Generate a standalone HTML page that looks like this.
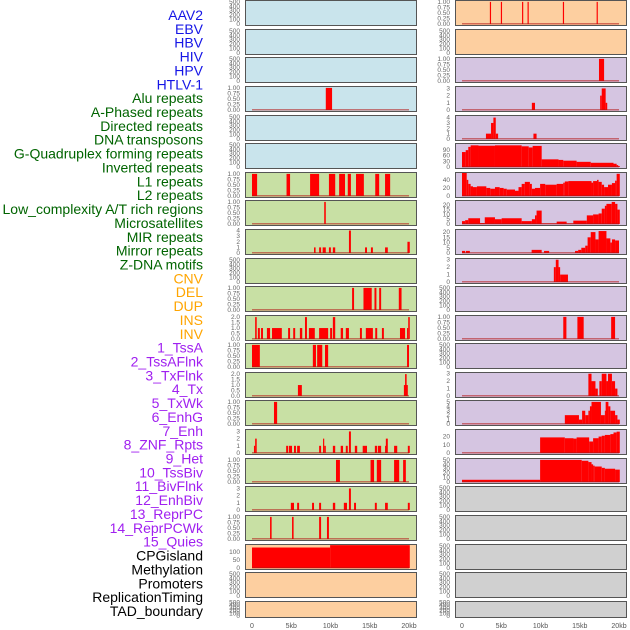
<!DOCTYPE html>
<html><head><meta charset="utf-8"><style>
html,body{margin:0;padding:0;background:#fff;width:630px;height:630px;overflow:hidden}
svg{display:block}
</style></head><body>
<svg id="chart" width="630" height="630" xmlns="http://www.w3.org/2000/svg"></svg>
<script>
// ---- data ----
const trackLabels = ["AAV2","EBV","HBV","HIV","HPV","HTLV-1","Alu repeats","A-Phased repeats","Directed repeats","DNA transposons","G-Quadruplex forming repeats","Inverted repeats","L1 repeats","L2 repeats","Low_complexity A/T rich regions","Microsatellites","MIR repeats","Mirror repeats","Z-DNA motifs","CNV","DEL","DUP","INS","INV","1_TssA","2_TssAFlnk","3_TxFlnk","4_Tx","5_TxWk","6_EnhG","7_Enh","8_ZNF_Rpts","9_Het","10_TssBiv","11_BivFlnk","12_EnhBiv","13_ReprPC","14_ReprPCWk","15_Quies","CPGisland","Methylation","Promoters","ReplicationTiming","TAD_boundary"];
const labelColors = ["#1515e6","#1515e6","#1515e6","#1515e6","#1515e6","#1515e6","#006400","#006400","#006400","#006400","#006400","#006400","#006400","#006400","#006400","#006400","#006400","#006400","#006400","#ffa500","#ffa500","#ffa500","#ffa500","#ffa500","#a020f0","#a020f0","#a020f0","#a020f0","#a020f0","#a020f0","#a020f0","#a020f0","#a020f0","#a020f0","#a020f0","#a020f0","#a020f0","#a020f0","#a020f0","#000","#000","#000","#000","#000"];
const xTickValues = [0,5,10,15,20];
const xTickLabels = ["0","5kb","10kb","15kb","20kb"];
const T500 = [0,100,200,300,400,500];
const T1 = [0,0.25,0.5,0.75,1];
const T2 = [0,0.5,1,1.5,2];
// left column panels
const leftBg = ["b","b","b","b","b","b","g","g","g","g","g","g","g","g","g","g","g","g","g","o","o","o"];
const leftTicks = [T500,T500,T500,T1,T500,T500,T1,T1,[0,1,2,3,4],T500,T1,T2,T1,T2,T1,[0,1,2,3],T1,[0,1,2,3],T1,[0,50,100],T500,T500];
const leftMax = [520,520,520,1.04,520,520,1.04,1.04,4.1,520,1.04,2.1,1.04,2.1,1.04,3.2,1.04,3.2,1.04,146,520,520];
const leftSegs = [
 [],[],[],
 [[9.4,10.2,1]],
 [],[],
 [[0,0.65,1],[4.4,4.85,1],[7.4,8.55,1],[9.8,10.6,1],[11.1,11.85,1],[12.2,12.6,1],[13.25,14.25,1],[15.7,16.2,1],[16.95,17.6,1]],
 [[9.2,9.4,1]],
 [[7.9,8.1,1],[8.55,8.8,1],[9.0,9.4,1],[9.8,10.05,1],[10.3,10.6,1],[12.35,12.6,4],[14.4,14.65,1],[15.15,15.4,1],[16.95,17.3,1],[19.8,20.1,2]],
 [],
 [[12.75,13.0,1],[14.2,15.25,1],[15.6,15.85,1],[16.2,16.45,1],[18.7,19.05,1]],
 [[0.4,0.6,2],[0.75,1.0,1],[1.15,1.4,1],[1.9,2.3,1],[2.55,3.8,1],[4.6,4.85,1],[5.25,5.5,1],[6.1,6.4,1],[6.75,7.0,2],[7.25,8.0,1],[8.55,9.7,1],[9.95,10.2,1],[10.3,10.6,2],[11.3,11.6,1],[11.95,12.35,1],[13.75,14.0,1],[14.5,15.4,1],[15.7,15.95,1],[16.55,16.8,1],[18.85,19.5,1],[19.75,19.9,1],[19.9,20.1,2]],
 [[0,1.0,1],[7.75,8.15,1],[8.3,8.95,1],[9.3,9.7,1],[19.75,20.0,1]],
 [[5.85,6.35,1],[19.35,19.85,1],[19.5,19.7,2]],
 [[2.8,3.2,1]],
 [[0.25,0.4,1],[0.4,0.6,2],[4.35,4.6,1],[4.7,5.1,1],[5.35,5.6,1],[5.75,6.1,1],[8.55,8.8,1],[9.05,9.2,2],[9.2,9.4,1],[10.3,10.6,1],[11.3,11.6,1],[11.95,12.2,1],[12.35,12.6,3],[13.1,13.4,1],[14.1,14.65,1],[15.65,15.95,1],[16.05,16.45,1],[16.95,17.2,1],[17.05,17.3,2],[18.1,18.5,1],[19.85,20.1,1]],
 [[10.7,11.2,1],[15.1,15.55,1],[15.9,16.45,1],[18.1,18.75,1],[19.25,19.6,1]],
 [[4.95,5.35,1],[5.75,6.0,1],[7.65,7.9,1],[8.55,8.8,1],[10.3,10.6,1],[11.7,12.1,1],[12.35,12.6,3],[13.0,13.25,1],[15.65,15.9,1],[16.95,17.3,1],[19.85,20.1,1]],
 [[2.3,2.5,1],[5.1,5.3,1],[8.55,8.8,1],[9.55,9.8,1]],
 [[0,9.95,130],[9.95,20.1,145]],
 [],[]
];
// right column panels
const rightBg = ["o","o","p","p","p","p","p","p","p","p","p","p","p","p","p","p","p","y","y","y","y","y"];
const rightTicks = [T1,T500,T1,[0,1,2,3],[0,1,2,3,4],[0,30,60,90],[0,20,40],[0,5,10,15,20],[0,5,10,15,20],[0,1,2,3],T500,T1,T500,[0,1,2,3],[0,1,2,3,4,5],[0,10,20],[0,10,20,30,40,50],T500,T500,T500,T500,T500];
const rightMax = [1.04,520,1.04,3.2,4.3,120,57,24,22,3.1,520,1.04,520,3.1,5.2,28,52,520,520,520,520,520];
const rightSegs = [
 [[3.55,3.7,1],[4.95,5.1,1],[7.65,7.8,1],[8.35,8.5,1],[12.85,13.0,1],[17.15,17.3,1]],
 [],
 [[17.45,18.1,1]],
 [[8.9,9.3,1],[17.6,17.8,2],[17.8,18.3,3],[18.3,18.5,1]],
 [[3.05,3.7,1],[3.7,4.0,3],[4.0,4.3,4],[4.3,4.6,1],[9.1,9.5,1]],
 [[0,0.47,78],[0.47,0.8,88],[0.8,1.1,105],[1.1,2.1,113],[2.1,4.2,111],[4.2,7.6,113],[7.6,8.5,108],[8.5,9.0,102],[9.0,10.15,110],[10.15,12.3,40],[12.3,12.9,37],[12.9,14.6,33],[14.6,16.4,27],[16.4,19.3,22],[19.3,19.7,17],[19.7,19.9,10],[19.9,20.1,5]],
 [[0,0.6,57],[0.6,0.8,40],[0.8,1.1,30],[1.1,1.4,24],[1.4,1.9,22],[1.9,3.1,24],[3.1,3.6,20],[3.6,4.2,18],[4.2,4.8,22],[4.8,5.3,20],[5.3,5.7,18],[5.7,6.75,16],[6.75,7.2,13],[7.2,7.6,22],[7.6,8.0,30],[8.0,8.65,35],[8.65,8.9,30],[8.9,9.3,18],[9.3,9.95,20],[9.95,10.6,30],[10.6,12.06,28],[12.06,12.9,30],[12.9,13.1,33],[13.1,13.55,36],[13.55,16.5,37],[16.5,16.7,33],[16.7,17.2,37],[17.2,17.4,40],[17.4,17.8,35],[17.8,18.1,28],[18.1,18.6,22],[18.6,19.1,28],[19.1,19.5,32],[19.5,19.7,38],[19.7,20.1,55]],
 [[0,0.4,3],[0.4,0.8,4],[0.8,2.3,6],[2.3,2.9,1],[2.9,4.2,7],[4.2,5.05,5],[5.05,7.6,6],[7.6,8.9,3],[8.9,9.3,5],[9.3,9.5,9],[9.5,10.15,14],[10.15,12.06,0.5],[12.06,13.33,2.5],[13.33,14.18,0.5],[14.18,15.9,3.5],[15.9,16.7,9],[16.7,17.4,10],[17.4,17.8,11],[17.8,18.2,16],[18.2,18.4,19],[18.4,19.07,21],[19.07,19.5,23],[19.5,19.8,21],[19.8,20.1,15]],
 [[0,0.4,2],[0.5,1.0,2],[8.87,10.15,3],[10.45,11.1,2],[14.4,14.8,2],[14.8,15.2,3],[15.2,15.7,5],[15.7,16.0,7],[16.0,16.4,15],[16.4,17.0,20],[17.0,17.4,13],[17.4,18.4,21],[18.4,18.9,14],[18.9,19.1,10],[19.1,19.5,13],[19.5,20.0,12]],
 [[11.7,11.95,2],[11.95,12.3,3],[12.3,12.5,2],[12.5,13.5,1]],
 [],
 [[12.9,13.3,1],[14.7,15.5,1],[19.0,19.5,1]],
 [],
 [[16.1,16.5,3],[16.5,17.0,2],[17.0,17.3,1],[17.5,17.8,2],[17.8,18.4,3],[18.4,18.6,2],[18.6,19.1,3],[19.1,19.5,2],[19.5,19.8,1]],
 [[13.1,14.9,2],[14.9,15.3,1],[15.3,15.7,3],[15.7,16.1,2],[16.1,16.3,3],[16.3,16.5,4],[16.5,17.7,5],[17.7,18.2,2],[18.2,18.3,3],[18.3,18.65,5],[18.65,18.9,4],[18.9,19.5,3],[19.5,19.8,2],[19.8,20.1,1]],
 [[9.95,13.1,19],[13.1,14.2,18],[14.2,14.6,17.5],[14.6,16.2,19],[16.2,16.7,14],[16.7,17.4,18],[17.4,17.8,20],[17.8,18.2,21],[18.2,18.9,22],[18.9,19.3,23],[19.3,19.7,25],[19.7,20.1,26]],
 [[0,9.95,5],[9.95,15.25,50],[15.25,16.1,48],[16.1,16.5,45],[16.5,16.7,40],[16.7,16.9,37],[16.9,17.8,35],[17.8,18.2,32],[18.2,19.5,30],[19.5,20.1,28]],
 [],[],[],[],[]
];
// ---- layout ----
const NS="http://www.w3.org/2000/svg";
const svg=document.getElementById('chart');
const bgColors={b:"#c9e4ec",g:"#c8e0a4",o:"#fdcfa0",p:"#d5c5e1",y:"#d0d0d0"};
const rowTops=[0,29,57,86,115,143,172,200,229,258,286,315,343,372,400,429,458,486,515,544,572,601];
function rowH(i){return i===21?16:25;}
function mk(tag,attrs){const e=document.createElementNS(NS,tag);for(const k in attrs)e.setAttribute(k,attrs[k]);svg.appendChild(e);return e;}
function fmt(v,ticks){
  if(ticks===T1) return v.toFixed(2);
  if(ticks===T2) return v.toFixed(1);
  return String(v);
}
function drawColumn(col,panelX,bgArr,ticksArr,maxArr,segArr){
  const pw=171, x0=panelX+7, xScale=kb=>x0+kb*7.85;
  for(let i=0;i<22;i++){
    const top=rowTops[i], h=rowH(i), bottom=top+h;
    const yScale=v=>bottom-1-v/maxArr[i]*(h-2);
    const r=mk('rect',{x:panelX+0.5,y:top+0.5,width:pw,height:h,fill:bgColors[bgArr[i]],stroke:"#555","stroke-width":1});
    
    
    ticksArr[i].forEach(v=>{
      const t=mk('text',{x:panelX-5,y:yScale(v)+2,"font-size":6.5,fill:"#666","text-anchor":"end","font-family":"Liberation Sans, sans-serif"});
      t.textContent=fmt(v,ticksArr[i]);
      
      
    });
    const segs=segArr[i];
    if(segs.length){
      segs.forEach(s=>{
        const x1=xScale(s[0]), x2=xScale(s[1]);
        const b=mk('rect',{x:x1,y:yScale(s[2]),width:Math.max(1,x2-x1),height:Math.max(0,bottom-1-yScale(s[2])),fill:"#ff0000"});
        
        
      });
      const bl=mk('rect',{x:xScale(0),y:bottom-2,width:xScale(20)-xScale(0),height:1.5,fill:"rgba(180,20,20,0.55)"});
      
      
    }
  }
  xTickValues.forEach((v,k)=>{
    const t=mk('text',{x:xScale(v),y:628,"font-size":7,fill:"#555","text-anchor":"middle","font-family":"Liberation Sans, sans-serif"});
    t.textContent=xTickLabels[k];
    
    
  });
}
trackLabels.forEach((s,i)=>{
  const t=mk('text',{x:203,y:20+i*13.86,"font-size":14,fill:labelColors[i],"text-anchor":"end","font-family":"Liberation Sans, sans-serif"});
  t.textContent=s;
  
  
});
drawColumn('left',245,leftBg,leftTicks,leftMax,leftSegs);
drawColumn('right',455,rightBg,rightTicks,rightMax,rightSegs);
</script>
</body></html>
